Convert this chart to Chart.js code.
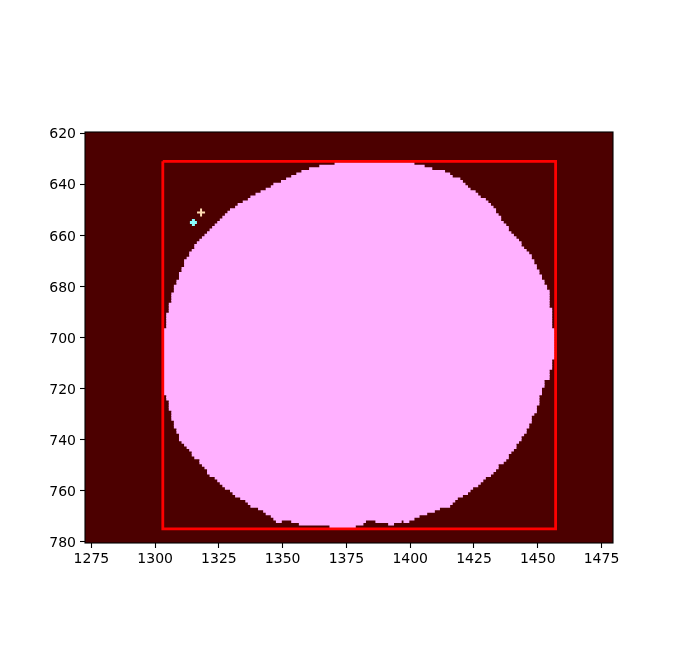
<!DOCTYPE html>
<html>
<head>
<meta charset="utf-8">
<script src="https://cdn.jsdelivr.net/npm/chart.js@4/dist/chart.umd.min.js"></script>
<style>
  body { margin: 0; background: #fff; }
  canvas { display: block; }
</style>
</head>
<body>
<canvas id="maskChart" width="681" height="668" style="width:681px;height:668px"></canvas>
<script>
// image extent (pixel columns / rows)
const imageCols = [1273, 1479];
const imageRows = [620, 780];

// mask: first and last pink column for every row, starting at firstRow
const firstRow = 632;
const maskLeft = [
  1371, 1365, 1361, 1358, 1356, 1354, 1352, 1350, 1347, 1346, 1344, 1342, 1340, 1338, 1337, 1335,
  1333, 1332, 1330, 1329, 1328, 1327, 1326, 1325, 1324, 1323, 1322, 1321, 1320, 1319, 1318, 1317,
  1316, 1316, 1315, 1314, 1314, 1313, 1312, 1312, 1312, 1311, 1311, 1310, 1310, 1310, 1309, 1309,
  1308, 1308, 1308, 1307, 1307, 1307, 1307, 1306, 1306, 1306, 1306,
  1305, 1305, 1305, 1305, 1305, 1305,
  1304, 1304, 1304, 1304, 1304, 1304, 1304, 1304, 1304, 1304, 1304, 1304, 1304,
  1304, 1304, 1304, 1304, 1304, 1304, 1304, 1304, 1304, 1304, 1304, 1304, 1304,
  1305, 1305, 1306, 1306, 1306, 1306, 1307, 1307, 1307, 1307, 1308, 1308, 1308, 1309, 1309,
  1310, 1310, 1310,
  1311, 1312, 1313, 1314, 1315, 1315, 1316, 1318, 1318, 1319, 1320, 1321, 1321, 1322, 1324, 1325,
  1326, 1327, 1328, 1330, 1331, 1332, 1334, 1336, 1337, 1338, 1341, 1343, 1344, 1346, 1347, 1348,
  1357, 1369
];
const maskRight = [
  1401, 1405, 1408, 1413, 1415, 1416, 1419, 1420, 1421, 1422, 1423, 1425, 1426, 1427, 1429, 1430,
  1431, 1432, 1433, 1433, 1434, 1435, 1435, 1436, 1437, 1438, 1438, 1439, 1440, 1441, 1442, 1443,
  1443, 1444, 1445, 1446, 1447, 1447, 1448, 1448, 1449, 1449, 1450, 1450, 1451, 1451, 1452, 1452,
  1453, 1453, 1454, 1454, 1454, 1454, 1454, 1454, 1454, 1455, 1455,
  1455, 1455, 1455, 1455, 1455, 1455,
  1456, 1456, 1456, 1456, 1456, 1456, 1456, 1456, 1456, 1456, 1456, 1456,
  1455, 1455, 1455, 1455, 1454, 1454, 1454, 1454, 1452, 1452, 1452, 1451, 1451, 1451,
  1450, 1450, 1450, 1450, 1449, 1449, 1449, 1448, 1447, 1447, 1447, 1446, 1446, 1445, 1445,
  1444, 1443, 1443,
  1442, 1441, 1441, 1440, 1439, 1438, 1438, 1437, 1436, 1434, 1434, 1433, 1432, 1431, 1429, 1428,
  1427, 1426, 1424, 1423, 1422, 1420, 1418, 1417, 1416, 1415, 1411, 1409, 1406, 1403, 1401, 1399,
  1393, 1378
];
// dark columns inside a row of the mask
const gapRow = [772, 772, 772, 773];
const gapFrom = [1350, 1383, 1397, 1382];
const gapTo = [1353, 1386, 1397, 1391];

// bounding box
const boxX = [1303, 1457];
const boxY = [631, 775];

// markers
const markerA = { x: 1315, y: 655 };
const markerB = { x: 1318, y: 651 };

const xTicks = [1275, 1300, 1325, 1350, 1375, 1400, 1425, 1450, 1475];
const yTicks = [620, 640, 660, 680, 700, 720, 740, 760, 780];

const bgColor = '#4c0000';
const maskColor = '#ffb0ff';

// split each row into runs of pink columns
const maskRuns = [];
maskLeft.forEach((left, i) => {
  const row = firstRow + i;
  let start = left;
  const gaps = gapRow.map((r, k) => ({ r, a: gapFrom[k], b: gapTo[k] }))
    .filter(g => g.r === row).sort((p, q) => p.a - q.a);
  gaps.forEach(g => {
    maskRuns.push({ y: row, x: [start - 0.5, g.a - 0.5] });
    start = g.b + 1;
  });
  maskRuns.push({ y: row, x: [start - 0.5, maskRight[i] + 0.5] });
});

const boxPath = [
  { x: boxX[0], y: boxY[0] }, { x: boxX[1], y: boxY[0] },
  { x: boxX[1], y: boxY[1] }, { x: boxX[0], y: boxY[1] }, { x: boxX[0], y: boxY[0] }
];

const imagePlugin = {
  id: 'imageFrame',
  beforeDatasetsDraw(chart) {
    const { ctx, scales: { x, y } } = chart;
    const x0 = x.getPixelForValue(imageCols[0] - 0.5);
    const x1 = x.getPixelForValue(imageCols[1] + 0.5);
    const y0 = y.getPixelForValue(imageRows[0] - 0.5);
    const y1 = y.getPixelForValue(imageRows[1] + 0.5);
    ctx.save();
    ctx.fillStyle = bgColor;
    ctx.fillRect(x0, y0, x1 - x0, y1 - y0);
    ctx.restore();
  },
  afterDatasetsDraw(chart) {
    const { ctx, chartArea: a } = chart;
    ctx.save();
    ctx.strokeStyle = '#000';
    ctx.lineWidth = 1.1;
    ctx.strokeRect(a.left, a.top, a.width, a.height);
    ctx.restore();
  }
};

const tickFont = { family: 'DejaVu Sans', size: 14 };
const plainLabel = v => String(v);

new Chart(document.getElementById('maskChart'), {
  type: 'scatter',
  data: {
    datasets: [
      {
        label: 'marker b',
        data: [markerB],
        pointStyle: 'cross',
        pointRadius: 4,
        borderColor: '#ffdcb4',
        borderWidth: 2,
        order: 1
      },
      {
        label: 'marker a',
        data: [markerA],
        pointStyle: 'cross',
        pointRadius: 3.5,
        borderColor: '#8affff',
        borderWidth: 3,
        order: 1
      },
      {
        type: 'line',
        label: 'box',
        data: boxPath,
        borderColor: '#ff0000',
        borderWidth: 2.8,
        pointRadius: 0,
        fill: false,
        tension: 0,
        order: 2
      },
      {
        type: 'bar',
        label: 'mask',
        indexAxis: 'y',
        data: maskRuns,
        backgroundColor: maskColor,
        borderWidth: 0,
        barPercentage: 1,
        categoryPercentage: 1,
        inflateAmount: 0.4,
        order: 3
      }
    ]
  },
  options: {
    responsive: false,
    devicePixelRatio: 1,
    animation: false,
    layout: { padding: { top: 132, right: 68, bottom: 0, left: 0 } },
    plugins: { legend: { display: false }, tooltip: { enabled: false } },
    scales: {
      x: {
        type: 'linear',
        offset: false,
        min: imageCols[0] - 0.5,
        max: imageCols[1] + 0.5,
        afterBuildTicks: s => { s.ticks = xTicks.map(v => ({ value: v })); },
        afterFit: s => { s.height = 125; },
        ticks: { font: tickFont, color: '#000', padding: 3, maxRotation: 0, autoSkip: false, callback: plainLabel },
        grid: { offset: false, drawOnChartArea: false, drawTicks: true, tickLength: 5, tickColor: '#000', tickWidth: 1.1 },
        border: { display: false }
      },
      y: {
        type: 'linear',
        offset: false,
        reverse: true,
        min: imageRows[0] - 0.5,
        max: imageRows[1] + 0.5,
        afterBuildTicks: s => { s.ticks = yTicks.map(v => ({ value: v })); },
        afterFit: s => { s.width = 85; },
        ticks: { font: tickFont, color: '#000', padding: 4, labelOffset: 1.5, autoSkip: false, callback: plainLabel },
        grid: { offset: false, drawOnChartArea: false, drawTicks: true, tickLength: 5, tickColor: '#000', tickWidth: 1.1 },
        border: { display: false }
      }
    }
  },
  plugins: [imagePlugin]
});
</script>
</body>
</html>
